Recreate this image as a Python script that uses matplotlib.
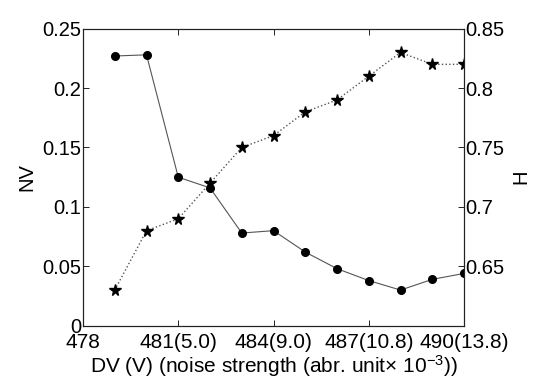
import matplotlib
matplotlib.use("Agg")
import matplotlib.pyplot as plt

plt.rcParams['font.family'] = ['Liberation Sans', 'DejaVu Sans']
plt.rcParams['mathtext.fontset'] = 'custom'
plt.rcParams['mathtext.rm'] = 'Liberation Sans'
plt.rcParams['mathtext.it'] = 'Liberation Sans:italic'

# Dados
dv = [479, 480, 481, 482, 483, 484, 485, 486, 487, 488, 489, 490]
nv = [0.227, 0.228, 0.125, 0.116, 0.078, 0.080, 0.062, 0.048, 0.038, 0.030, 0.039, 0.044]
h = [0.63, 0.68, 0.69, 0.72, 0.75, 0.76, 0.78, 0.79, 0.81, 0.83, 0.82, 0.82]

xticks = [478, 481, 484, 487, 490]
xticklabels = ['478', '481(5.0)', '484(9.0)', '487(10.8)', '490(13.8)']
nv_ticks = [0, 0.05, 0.1, 0.15, 0.2, 0.25]
nv_labels = ['0', '0.05', '0.1', '0.15', '0.2', '0.25']
h_ticks = [0.65, 0.7, 0.75, 0.8, 0.85]
h_labels = ['0.65', '0.7', '0.75', '0.8', '0.85']

fs = 14.5

fig = plt.figure(figsize=(5.45, 3.84), dpi=100)
ax = fig.add_axes([0.1523, 0.1518, 0.6991, 0.7735])
ax2 = ax.twinx()

ax.plot(dv, nv, '-', color='#555555', lw=0.8, zorder=1)
ax.plot(dv, nv, 'o', color='black', ms=5.5, zorder=2)
ax2.plot(dv, h, ':', color='#555555', lw=1.0, zorder=1)
ax2.plot(dv, h, '*', color='black', ms=8.5, zorder=2)

ax.set_xlim(478, 490)
ax.set_ylim(0, 0.25)
ax2.set_ylim(0.6, 0.85)

ax.set_xticks(xticks)
ax.set_xticklabels(xticklabels, fontsize=15)
ax.set_yticks(nv_ticks)
ax.set_yticklabels(nv_labels, fontsize=fs)
ax2.set_yticks(h_ticks)
ax2.set_yticklabels(h_labels, fontsize=fs)

ax.tick_params(axis='x', direction='in', top=True, length=4, width=0.6, pad=5)
ax.tick_params(axis='y', direction='in', length=4, width=0.6, pad=1)
ax2.tick_params(axis='y', direction='in', length=4, width=0.6, pad=1)

for a in (ax, ax2):
    for s in a.spines.values():
        s.set_linewidth(0.8)
        s.set_color('#222222')

ax.set_xlabel(r'DV (V) (noise strength (abr. unit$\times$ 10$^{-3}$))', fontsize=15, labelpad=1)
ax.set_ylabel('NV', fontsize=fs, labelpad=4.5)
ax2.set_ylabel('H', fontsize=fs, labelpad=5)

fig.savefig('out.png', dpi=100)
